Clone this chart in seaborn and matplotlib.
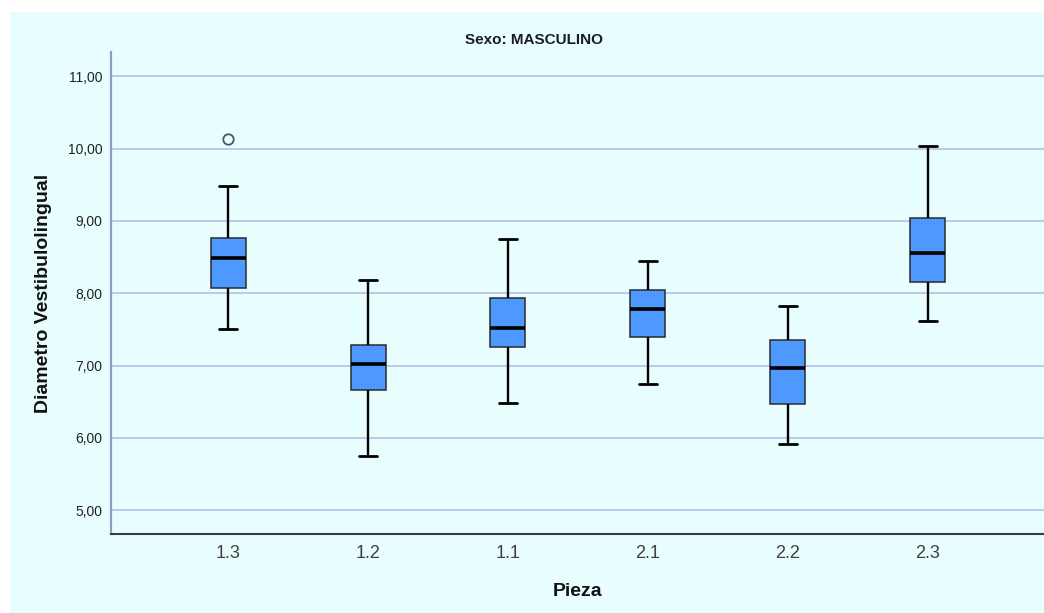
import numpy as np
import pandas as pd
import matplotlib
matplotlib.use("Agg")
import matplotlib.pyplot as plt
from matplotlib.patches import Rectangle
from matplotlib.ticker import FuncFormatter
import seaborn as sns

# Five-number summaries of the vestibulolingual diameter per tooth (male group)
piezas = ["1.3", "1.2", "1.1", "2.1", "2.2", "2.3"]
bigote_inf = [7.51, 5.75, 6.48, 6.75, 5.91, 7.61]
cuartil_1 = [8.07, 6.66, 7.26, 7.40, 6.47, 8.15]
mediana = [8.48, 7.02, 7.52, 7.78, 6.96, 8.55]
cuartil_3 = [8.77, 7.29, 7.94, 8.05, 7.36, 9.04]
bigote_sup = [9.48, 8.18, 8.75, 8.45, 7.82, 10.04]

# Outlying observations
atipico_pieza = ["1.3"]
atipico_valor = [10.13]

y_ticks = [5, 6, 7, 8, 9, 10, 11]

# Long-form table: each tooth contributes its five summary values, so the
# quartiles and whisker ends (min/max) reproduce the summaries exactly.
filas = []
for p, a, b, c, d, e in zip(piezas, bigote_inf, cuartil_1, mediana, cuartil_3, bigote_sup):
    for v in (a, b, c, d, e):
        filas.append({"Pieza": p, "Diametro": v})
df = pd.DataFrame(filas)
df_out = pd.DataFrame({"Pieza": atipico_pieza, "Diametro": atipico_valor})

sns.set_style("white")
plt.rcParams["font.family"] = ["Liberation Sans", "DejaVu Sans"]

panel_bg = "#E8FEFE"
box_fill = "#4D99FF"
grid_col = "#B8C6EA"

W, H = 1044, 613
fig = plt.figure(figsize=(W / 100, H / 100), dpi=100, facecolor="white")
fig.patches.append(Rectangle((10 / W, 0), 1 - 10 / W, 1 - 12 / H,
                             transform=fig.transFigure, facecolor=panel_bg,
                             edgecolor="none", zorder=-10))

left, right, top, bottom = 110.5, 1044, 52, 534
ax = fig.add_axes([left / W, (H - bottom) / H, (right - left) / W, (bottom - top) / H])
ax.set_facecolor("none")

sns.boxplot(data=df, x="Pieza", y="Diametro", order=piezas, whis=(0, 100),
            width=0.25, color=box_fill, saturation=1, showfliers=False,
            linecolor="#1a1a1a", linewidth=1.8, ax=ax,
            boxprops=dict(edgecolor="#2a2a2a", linewidth=1.1),
            medianprops=dict(color="black", linewidth=2.6),
            whiskerprops=dict(color="black", linewidth=1.7),
            capprops=dict(color="black", linewidth=2.0))

sns.stripplot(data=df_out, x="Pieza", y="Diametro", order=piezas, jitter=False,
              color=panel_bg, edgecolor="#4a5668", linewidth=1.3, size=7.5,
              marker="o", ax=ax, zorder=5)

# Axis ranges
ax.set_xlim(-0.84, 5.83)
ax.set_ylim(4.672, 11.334)
ax.set_yticks(y_ticks)
ax.yaxis.set_major_formatter(FuncFormatter(lambda v, _: f"{v:.2f}".replace(".", ",")))
ax.set_xticks(range(len(piezas)))
ax.set_xticklabels(piezas)

ax.grid(axis="y", color=grid_col, linewidth=1.3)
ax.grid(axis="x", visible=False)
ax.set_axisbelow(True)

for s in ("top", "right"):
    ax.spines[s].set_visible(False)
ax.spines["left"].set_color("#8C9CC6")
ax.spines["left"].set_linewidth(1.6)
ax.spines["bottom"].set_color("#3c3c3c")
ax.spines["bottom"].set_linewidth(1.5)

ax.tick_params(axis="y", length=0, pad=6, labelsize=10, labelcolor="#222222")
ax.tick_params(axis="x", length=0, pad=8, labelsize=13, labelcolor="#404040")

ax.set_xlabel("")
ax.set_ylabel("")
fig.text(578 / W, 1 - 592 / H, "Pieza", ha="center", va="center",
         fontsize=14, fontweight="bold", color="#111111")
fig.text(44 / W, 1 - 293 / H, "Diametro Vestibulolingual", ha="center", va="center",
         rotation=90, fontsize=14, fontweight="bold", color="#111111")
fig.text(534 / W, 1 - 39.5 / H, "Sexo: MASCULINO", ha="center", va="center",
         fontsize=11, fontweight="bold", color="#1a1a2a")

fig.savefig("out.png", dpi=100, facecolor="white")
